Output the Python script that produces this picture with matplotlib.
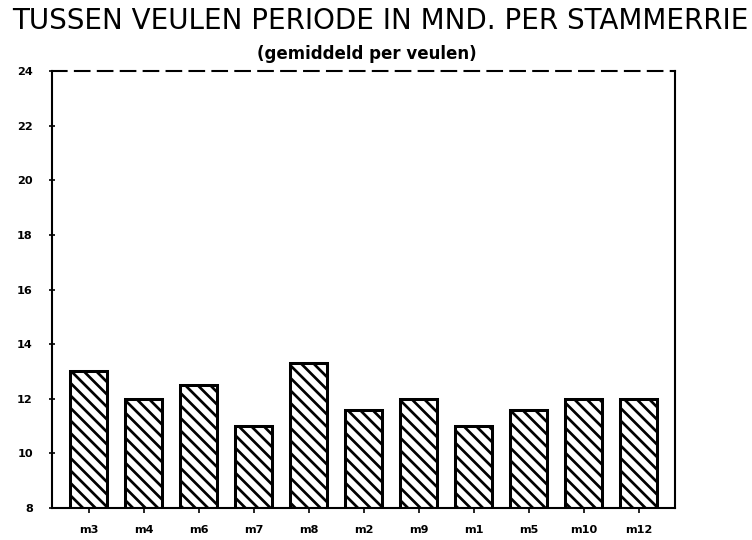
import matplotlib
matplotlib.use("Agg")
import matplotlib.pyplot as plt

# mean interval between foals (months) per foundation mare
mares = ["m3", "m4", "m6", "m7", "m8", "m2", "m9", "m1", "m5", "m10", "m12"]
months = [13.0, 12.0, 12.5, 11.0, 13.3, 11.6, 12.0, 11.0, 11.6, 12.0, 12.0]
y_ticks = [8, 10, 12, 14, 16, 18, 20, 22, 24]

BACKSLASH = chr(92)
DPI = 150

plt.rcParams["font.family"] = "DejaVu Sans"
plt.rcParams["hatch.linewidth"] = 1.3
plt.rcParams["hatch.color"] = "black"

fig = plt.figure(figsize=(753 / DPI, 540 / DPI), dpi=DPI)
ax = fig.add_axes([52 / 753, 1 - 508 / 540, (675 - 52) / 753, (508 - 71) / 540])

x = list(range(len(mares)))
ax.bar(x, [m - 8 for m in months], bottom=8, width=0.67,
       facecolor="white", edgecolor="black", linewidth=1.45,
       hatch=BACKSLASH * 4)

ax.set_xlim(-0.67, len(mares) - 0.34)
ax.set_ylim(8, 24)
ax.set_yticks(y_ticks)
ax.set_xticks(x)
ax.set_xticklabels(mares)

ax.tick_params(axis="y", direction="inout", length=2.9, width=0.8, pad=7.7,
               labelsize=5.4)
ax.tick_params(axis="x", direction="out", length=2.4, width=0.8, pad=5.6,
               labelsize=5.4)
for lab in ax.get_xticklabels() + ax.get_yticklabels():
    lab.set_fontweight("bold")

for side in ["left", "bottom", "right"]:
    ax.spines[side].set_linewidth(1.0)
ax.spines["top"].set_linewidth(1.0)
ax.spines["top"].set_linestyle((0, (7, 4)))

fig.text(380 / 753, 1 - 21 / 540, "TUSSEN VEULEN PERIODE IN MND. PER STAMMERRIE",
         ha="center", va="center", fontsize=13.3)
fig.text(367 / 753, 1 - 54 / 540, "(gemiddeld per veulen)",
         ha="center", va="center", fontsize=8, fontweight="bold")

fig.savefig("out.png", dpi=DPI)
